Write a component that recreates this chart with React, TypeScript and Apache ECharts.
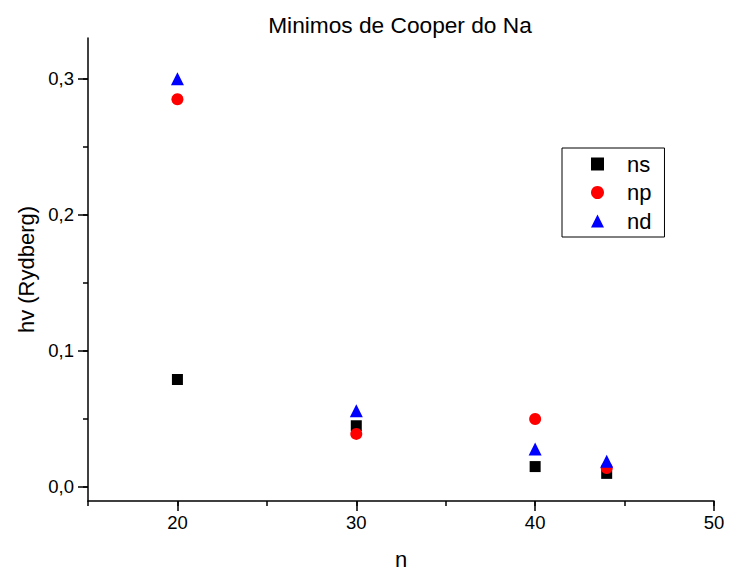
import React, { useEffect, useRef } from "react";
import * as echarts from "echarts";

const nValues = [20, 30, 40, 44];
const nsValues = [0.079, 0.045, 0.015, 0.010];
const npValues = [0.285, 0.039, 0.050, 0.014];
const ndValues = [0.300, 0.056, 0.028, 0.019];
const yMajorTicks = [0, 0.1, 0.2, 0.3];
const yAllTicks = [0, 0.05, 0.1, 0.15, 0.2, 0.25, 0.3];
const xMajorTicks = [20, 30, 40, 50];
const xAllTicks = [15, 20, 25, 30, 35, 40, 45, 50];

const FONT = "Liberation Sans, Arial, sans-serif";
const Y_MIN = -0.0103;
const Y_MAX = 0.33;

export default function App() {
  const ref = useRef<HTMLDivElement>(null);
  useEffect(() => {
    if (!ref.current) return;
    const chart = echarts.init(ref.current, null, { renderer: "svg" });
    const pts = (ys: number[]) => nValues.map((x, i) => [x, ys[i]]);
    const tickStyle = { color: "#000", width: 1.5 };
    chart.setOption({
      animation: false,
      backgroundColor: "#fff",
      title: {
        text: "Minimos de Cooper do Na",
        left: 395,
        top: 8,
        textAlign: "center",
        textStyle: { fontFamily: FONT, fontSize: 22.7, fontWeight: "normal", color: "#000" },
      },
      grid: { left: 88, right: 15, top: 38, bottom: 72, containLabel: false, outerBoundsMode: "none" },
      xAxis: [
        {
          type: "value",
          min: 15,
          max: 50,
          name: "n",
          nameLocation: "middle",
          nameGap: 47,
          nameTextStyle: { fontFamily: FONT, fontSize: 22, color: "#000" },
          axisLine: { show: true, onZero: false, lineStyle: tickStyle },
          axisTick: { show: true, customValues: xMajorTicks, length: 10, lineStyle: tickStyle },
          axisLabel: { customValues: xMajorTicks, fontFamily: FONT, fontSize: 18.5, color: "#000", margin: 12 },
          splitLine: { show: false },
        },
        {
          type: "value",
          min: 15,
          max: 50,
          position: "bottom",
          axisLine: { show: false, onZero: false },
          axisTick: { show: true, customValues: xAllTicks, length: 5, lineStyle: tickStyle },
          axisLabel: { show: false },
          splitLine: { show: false },
        },
      ],
      yAxis: [
        {
          type: "value",
          min: Y_MIN,
          max: Y_MAX,
          name: "hv (Rydberg)",
          nameLocation: "middle",
          nameGap: 50,
          nameTextStyle: { fontFamily: FONT, fontSize: 22, color: "#000" },
          axisLine: { show: true, onZero: false, lineStyle: tickStyle },
          axisTick: { show: true, customValues: yMajorTicks, length: 10, lineStyle: tickStyle },
          axisLabel: {
            customValues: yMajorTicks,
            fontFamily: FONT,
            fontSize: 18.5,
            color: "#000",
            margin: 14,
            formatter: (v: number) => v.toFixed(1).replace(".", ","),
          },
          splitLine: { show: false },
        },
        {
          type: "value",
          min: Y_MIN,
          max: Y_MAX,
          position: "left",
          axisLine: { show: false, onZero: false },
          axisTick: { show: true, customValues: yAllTicks, length: 5, lineStyle: tickStyle },
          axisLabel: { show: false },
          splitLine: { show: false },
        },
      ],
      legend: {
        orient: "vertical",
        left: 562,
        top: 148,
        padding: [5, 13, 5, 29],
        borderColor: "#000",
        borderWidth: 1,
        itemWidth: 13,
        itemHeight: 13,
        itemGap: 6.5,
        textStyle: { fontFamily: FONT, fontSize: 22, color: "#000", padding: [0, 0, 0, 18] },
        data: ["ns", "np", "nd"],
      },
      series: [
        {
          name: "ns",
          type: "scatter",
          symbol: "rect",
          symbolSize: 11,
          itemStyle: { color: "#000", opacity: 1 },
          data: pts(nsValues),
          z: 2,
        },
        {
          name: "np",
          type: "scatter",
          symbol: "circle",
          symbolSize: 12,
          itemStyle: { color: "#ff0000", opacity: 1 },
          data: pts(npValues),
          z: 3,
        },
        {
          name: "nd",
          type: "scatter",
          symbol: "triangle",
          symbolSize: 13,
          itemStyle: { color: "#0000ff", opacity: 1 },
          data: pts(ndValues),
          z: 4,
        },
      ],
    });
    return () => chart.dispose();
  }, []);
  return <div ref={ref} style={{ position: "fixed", left: 0, top: 0, width: 729, height: 573 }} />;
}
